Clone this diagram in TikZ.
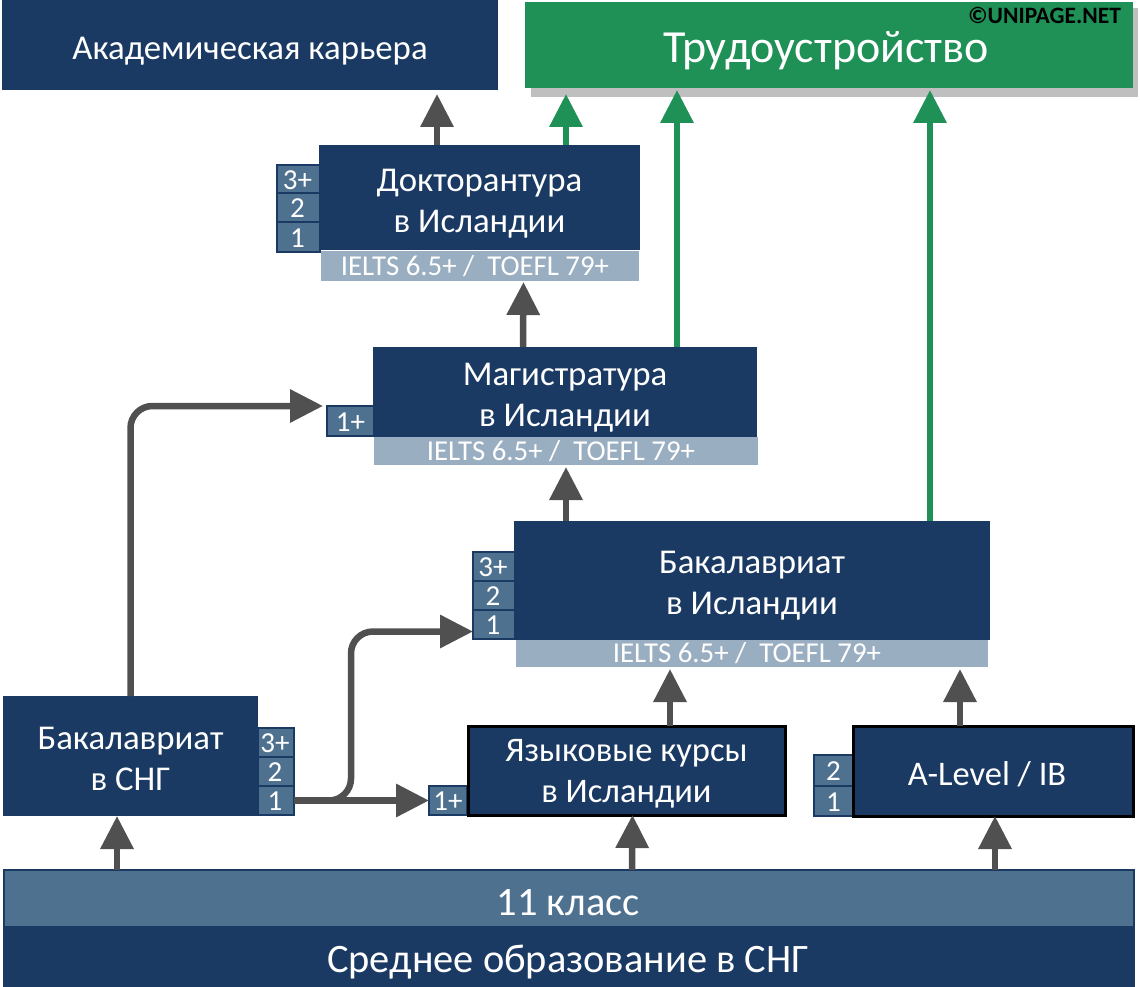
\documentclass[tikz,border=0pt]{standalone}
\usepackage{fontspec}
\setmainfont{Carlito}
\usetikzlibrary{arrows.meta,calc}
\definecolor{navy}{HTML}{1A3A63}
\definecolor{badgefill}{HTML}{4F7190}
\definecolor{langfill}{HTML}{9AAEC1}
\definecolor{jobgreen}{HTML}{1F9157}
\definecolor{arrowgray}{HTML}{505050}
\definecolor{shadowgray}{HTML}{BFBFBF}
\tikzset{
  base/.style={inner sep=0pt,outer sep=0pt,text=white,align=center},
  navybox/.style={base,fill=navy,font=\fontsize{34.8}{41}\selectfont},
  blackbox/.style={navybox,draw=black,line width=3pt,font=\fontsize{34.5}{41}\selectfont},
  greenbox/.style={base,fill=jobgreen,font=\fontsize{46}{50}\selectfont},
  shadowbox/.style={base,fill=shadowgray},
  langbox/.style={base,fill=langfill,font=\fontsize{28.8}{32}\selectfont},
  badgebox/.style={base,fill=badgefill,draw=navy,line width=2.5pt,font=\fontsize{29}{32}\selectfont},
  midbox/.style={base,fill=badgefill,draw=navy,line width=2.5pt,font=\fontsize{40.4}{44}\selectfont},
  botbox/.style={base,fill=navy,font=\fontsize{40.4}{44}\selectfont},
  garrow/.style={draw=arrowgray,line width=6.5pt,-{Triangle[length=33pt,width=32pt,fill=arrowgray]}},
  greenarrow/.style={draw=jobgreen,line width=6.5pt,-{Triangle[length=33pt,width=32pt,fill=jobgreen]}},
}
\newcommand{\bx}[7]{\node[#6,minimum width={(#4)-(#2)},minimum height={(#5)-(#3)}] (#1) at ({((#2)+(#4))/2},{((#3)+(#5))/2}) {#7};}
\newcommand{\dn}[2]{\raisebox{-#1pt}[\height][\depth]{#2}}
\newcommand{\ielts}{IELTS 6.5+ /~~TOEFL 79+\hspace*{10pt}}
\begin{document}
\begin{tikzpicture}[x=1pt,y=-1pt]
\useasboundingbox (0,0) rectangle (1140,987);
% top row
\bx{acad}{2}{0}{498}{90}{navybox}{\dn{6}{Академическая карьера}}
\bx{jobshadow}{531}{8}{1138}{97}{shadowbox}{}
\bx{job}{525}{2}{1133}{88}{greenbox}{\dn{6}{Трудоустройство\hspace*{6pt}}}
\node[inner sep=0pt,text=black,font=\fontsize{23.5}{26}\selectfont\bfseries] (copy) at (1044.5,15) {©UNIPAGE.NET};
% doctorate
\bx{d3}{277}{165}{320}{193}{badgebox}{\dn{1}{3+\hspace*{2pt}}}
\bx{d2}{277}{193}{320}{222}{badgebox}{\dn{1}{2\hspace*{2pt}}}
\bx{d1}{277}{222}{320}{252}{badgebox}{\dn{1}{1\hspace*{2pt}}}
\bx{doc}{319}{145}{640}{250}{navybox}{\dn{6}{Докторантура}\\\dn{6}{в Исландии}}
\bx{docl}{321}{251}{639}{281}{langbox}{\ielts}
% master
\bx{m1}{327}{406}{374}{436}{badgebox}{\dn{1}{1+}}
\bx{mag}{373}{347}{757}{437}{navybox}{\dn{6}{Магистратура}\\\dn{6}{в Исландии}}
\bx{magl}{374}{437}{758}{465}{langbox}{\ielts}
% bachelor
\bx{b3}{473}{552}{515}{581}{badgebox}{\dn{1}{3+\hspace*{2pt}}}
\bx{b2}{473}{581}{515}{610}{badgebox}{\dn{1}{2\hspace*{2pt}}}
\bx{b1}{473}{610}{515}{639}{badgebox}{\dn{1}{1\hspace*{2pt}}}
\bx{bak}{514}{521}{990}{640}{navybox}{\dn{5}{Бакалавриат}\\\dn{5}{в Исландии}}
\bx{bakl}{516}{640}{988}{667}{langbox}{\ielts}
% CIS bachelor
\bx{s3}{258}{728}{294}{757}{badgebox}{\dn{1}{3+\hspace*{2pt}}}
\bx{s2}{258}{757}{294}{786}{badgebox}{\dn{1}{2\hspace*{2pt}}}
\bx{s1}{258}{786}{294}{815}{badgebox}{\dn{1}{1\hspace*{2pt}}}
\bx{sng}{3}{696}{258}{816}{navybox}{\dn{3}{Бакалавриат}\\\dn{3}{в СНГ}}
% language courses
\bx{l1}{429}{786}{467}{815}{badgebox}{\dn{1}{1+}}
\bx{lang}{468}{726}{785}{815}{blackbox}{\dn{3}{Языковые курсы}\\\dn{3}{в Исландии}}
% A-level
\bx{a2}{814}{755}{853}{786}{badgebox}{\dn{1}{2}}
\bx{a1}{814}{786}{853}{816}{badgebox}{\dn{1}{1}}
\bx{alev}{853}{726}{1133}{816}{blackbox}{\dn{3}{A-Level / IB\hspace*{12pt}}}
% school
\bx{grade}{4}{870}{1134}{927}{midbox}{\dn{4}{11 класс\hspace*{2pt}}}
\bx{school}{3}{927}{1135}{987}{botbox}{\dn{5}{Среднее образование в СНГ\hspace*{2pt}}}
% arrows
\draw[garrow] ([xshift=-42.5pt]doc.north) -- ([xshift=187pt,yshift=-4pt]acad.south);
\draw[greenarrow] ([xshift=86.5pt]doc.north) -- ([xshift=-263pt,yshift=-6pt]job.south);
\draw[greenarrow] ([xshift=112pt]mag.north) -- ([xshift=-152pt,yshift=-2pt]job.south);
\draw[greenarrow] ([xshift=178pt]bak.north) -- ([xshift=101pt,yshift=-2pt]job.south);
\draw[garrow] ([xshift=-42pt]mag.north) -- ([xshift=43.5pt,yshift=-1pt]docl.south);
\draw[garrow] ([xshift=-186pt]bak.north) -- ([xshift=0pt,yshift=-2pt]magl.south);
\draw[garrow] ([xshift=43.5pt]lang.north) -- ([xshift=-82pt,yshift=-2pt]bakl.south);
\draw[garrow] ([xshift=-33pt]alev.north) -- ([xshift=208pt,yshift=-2pt]bakl.south);
\draw[garrow] ([xshift=-452pt]grade.north) -- (sng.south -| 117,0);
\draw[garrow] ([xshift=63pt]grade.north) -- ([xshift=6pt]lang.south);
\draw[garrow] ([xshift=426pt]grade.north) -- ([xshift=2pt]alev.south);
\draw[garrow,rounded corners=22pt] (sng.north) |- ([xshift=-4pt,yshift=15pt]m1.west);
\draw[garrow,rounded corners=22pt] (s1.east) -- ++(57,0) |- ([yshift=-7pt]b1.west);
\draw[garrow] (s1.east) -- (l1.west);
\end{tikzpicture}
\end{document}
